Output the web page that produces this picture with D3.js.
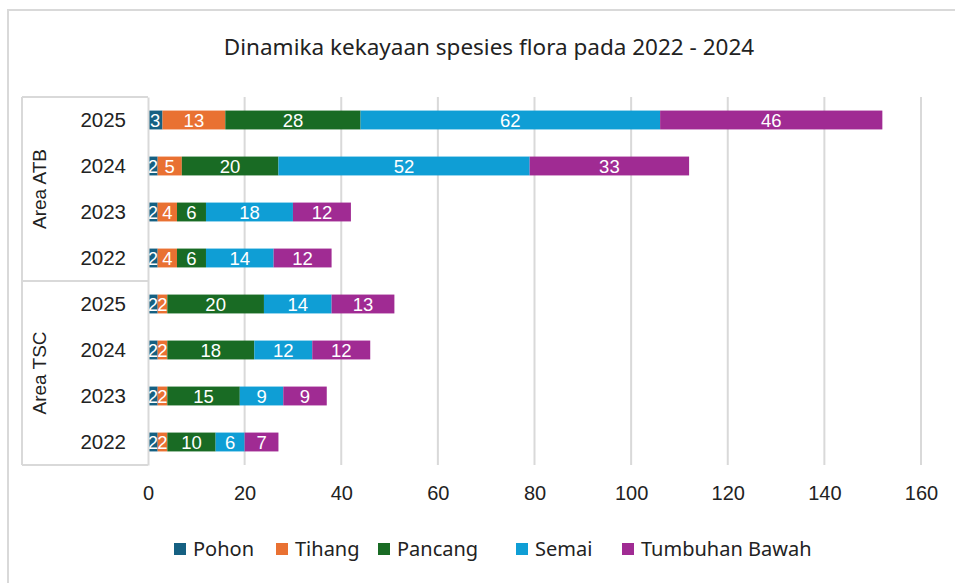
<!DOCTYPE html>
<html lang="id">
<head>
<meta charset="UTF-8">
<title>Dinamika kekayaan spesies flora</title>
<script src="https://cdn.jsdelivr.net/npm/d3@7"></script>
<style>
  body { margin: 0; background: #fff; }
  svg { display: block; }
</style>
</head>
<body>
<div id="chart"></div>
<script>
// Data
var areas = ["Area ATB", "Area TSC"];
var years = ["2025", "2024", "2023", "2022"];
var seriesNames = ["Pohon", "Tihang", "Pancang", "Semai", "Tumbuhan Bawah"];
var seriesColors = ["#156082", "#E97132", "#196B24", "#0F9ED5", "#A02B93"];
var pohon   = [3, 2, 2, 2, 2, 2, 2, 2];
var tihang  = [13, 5, 4, 4, 2, 2, 2, 2];
var pancang = [28, 20, 6, 6, 20, 18, 15, 10];
var semai   = [62, 52, 18, 14, 14, 12, 9, 6];
var tumbuhanBawah = [46, 33, 12, 12, 13, 12, 9, 7];
var xTicks = [0, 20, 40, 60, 80, 100, 120, 140, 160];

// rows: area x year
var rows = [];
areas.forEach(function (a) {
  years.forEach(function (y) { rows.push({ area: a, year: y, key: a + "|" + y }); });
});
var allSeries = [pohon, tihang, pancang, semai, tumbuhanBawah];
rows.forEach(function (r, i) {
  seriesNames.forEach(function (s, j) { r[s] = allSeries[j][i]; });
});

var W = 955, H = 583;
var margin = { top: 97, right: 34, bottom: 118, left: 148 };
var width = W - margin.left - margin.right,
    height = H - margin.top - margin.bottom;
var ARIAL = "'Liberation Sans', Arial, sans-serif";

var svg = d3.select("#chart").append("svg")
  .attr("width", W).attr("height", H);

// outer frame
svg.append("path")
  .attr("d", "M8," + H + "V10H" + W)
  .attr("fill", "none").attr("stroke", "#d9d9d9").attr("stroke-width", 2);

// title
svg.append("text")
  .attr("x", 489).attr("y", 55)
  .attr("text-anchor", "middle")
  .style("font-family", "'Noto Sans', sans-serif")
  .style("font-size", "22.5px").attr("fill", "#222")
  .text("Dinamika kekayaan spesies flora pada 2022 - 2024");

var g = svg.append("g").attr("transform", "translate(" + margin.left + "," + margin.top + ")");

var x = d3.scaleLinear().domain([0, 160]).range([0, width]);
var y = d3.scaleBand().domain(rows.map(function (r) { return r.key; }))
  .range([0, height]).paddingInner(0.59).paddingOuter(0.295);

// gridlines
g.append("g").selectAll("line").data(xTicks.slice(1)).enter().append("line")
  .attr("x1", function (d) { return x(d); }).attr("x2", function (d) { return x(d); })
  .attr("y1", 0).attr("y2", height)
  .attr("stroke", "#d9d9d9").attr("stroke-width", 2);

// stacked bars
var stack = d3.stack().keys(seriesNames);
var stacked = stack(rows);

var layer = g.append("g").selectAll("g").data(stacked).enter().append("g")
  .attr("fill", function (d, i) { return seriesColors[i]; });

layer.selectAll("rect").data(function (d) { return d; }).enter().append("rect")
  .attr("x", function (d) { return x(d[0]); })
  .attr("y", function (d) { return y(d.data.key); })
  .attr("width", function (d) { return x(d[1]) - x(d[0]); })
  .attr("height", y.bandwidth());

// labels
layer.selectAll("text").data(function (d) { return d; }).enter().append("text")
  .attr("x", function (d) { return (x(d[0]) + x(d[1])) / 2; })
  .attr("y", function (d) { return y(d.data.key) + y.bandwidth() / 2; })
  .attr("dy", "0.36em")
  .attr("text-anchor", "middle")
  .attr("fill", "#fff")
  .style("font-family", ARIAL)
  .style("font-size", "18.5px")
  .text(function (d) { return d[1] - d[0]; });

// x axis
var xAxis = g.append("g").attr("transform", "translate(0," + height + ")")
  .call(d3.axisBottom(x).tickValues(xTicks).tickSize(0).tickPadding(21));
xAxis.select(".domain").remove();
xAxis.selectAll("text").style("font-family", ARIAL).style("font-size", "20px").attr("fill", "#222");

// category axis (years)
var yAxis = g.append("g")
  .call(d3.axisLeft(y).tickSize(0).tickPadding(22).tickFormat(function (k) { return k.split("|")[1]; }));
yAxis.select(".domain").attr("stroke", "#d9d9d9").attr("stroke-width", 2);
yAxis.selectAll("text").style("font-family", ARIAL).style("font-size", "20.5px").attr("fill", "#222");

// group boxes
var boxLeft = 22 - margin.left;
var groupH = height / areas.length;
var grp = g.append("g");
grp.append("line").attr("x1", boxLeft).attr("x2", boxLeft).attr("y1", 0).attr("y2", height)
  .attr("stroke", "#d9d9d9").attr("stroke-width", 2);
d3.range(areas.length + 1).forEach(function (i) {
  grp.append("line").attr("x1", boxLeft).attr("x2", 0)
    .attr("y1", i * groupH).attr("y2", i * groupH)
    .attr("stroke", "#d9d9d9").attr("stroke-width", 2);
});
grp.selectAll("text").data(areas).enter().append("text")
  .attr("transform", function (d, i) { return "translate(" + (boxLeft + 24) + "," + (groupH * i + groupH / 2) + ") rotate(-90)"; })
  .attr("text-anchor", "middle")
  .style("font-family", ARIAL)
  .style("font-size", "19px").attr("fill", "#222")
  .text(function (d) { return d; });

// legend
var legendX = [174, 276, 378, 516, 622];
var legend = svg.append("g").attr("transform", "translate(0,549)");
var li = legend.selectAll("g").data(seriesNames).enter().append("g")
  .attr("transform", function (d, i) { return "translate(" + legendX[i] + ",0)"; });
li.append("rect").attr("x", 0).attr("y", -6).attr("width", 12).attr("height", 12)
  .attr("fill", function (d, i) { return seriesColors[i]; });
li.append("text").attr("x", 19).attr("dy", "0.36em")
  .style("font-family", "'Noto Sans', sans-serif")
  .style("font-size", "20px").attr("fill", "#222")
  .text(function (d) { return d; });
</script>
</body>
</html>
